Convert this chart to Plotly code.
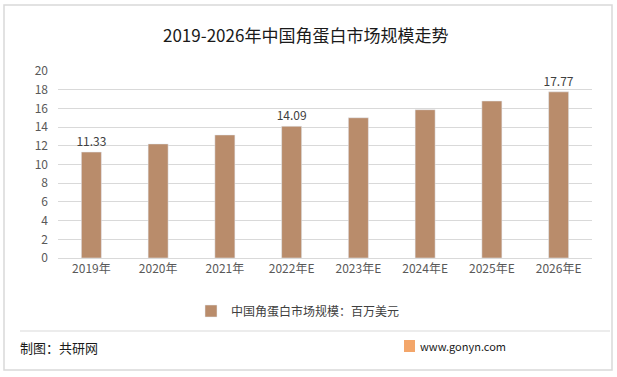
import plotly.graph_objects as go

categories = ["2019年", "2020年", "2021年", "2022年E", "2023年E", "2024年E", "2025年E", "2026年E"]
values = [11.33, 12.2, 13.16, 14.09, 15.0, 15.86, 16.79, 17.77]
labels = ["11.33", "", "", "14.09", "", "", "", "17.77"]
series_name = "中国角蛋白市场规模：百万美元"
title = "2019-2026年中国角蛋白市场规模走势"
y_ticks = [0, 2, 4, 6, 8, 10, 12, 14, 16, 18, 20]

W, H = 617, 377
L, R, T, B = 58, 25, 71, 119
pw, ph = W - L - R, H - T - B

def px(x):
    return (x - L) / pw

def py(y):
    return (H - B - y) / ph

font_family = "Noto Sans CJK SC, Microsoft YaHei, sans-serif"

fig = go.Figure()
fig.add_trace(go.Bar(
    x=categories, y=values, name=series_name,
    marker=dict(color="#B98C6B"),
    text=labels, textposition="outside", constraintext="none",
    textfont=dict(size=12, color="#404040"),
    cliponaxis=False,
))

fig.update_layout(
    width=W, height=H,
    margin=dict(l=L, r=R, t=T, b=B, autoexpand=False),
    paper_bgcolor="white", plot_bgcolor="white",
    font=dict(family=font_family, color="#595959", size=12),
    bargap=0.7,
    showlegend=True,
    legend=dict(orientation="h", x=0.5 - 27 / pw, xanchor="center", y=py(311), yanchor="middle",
                font=dict(size=12, color="#404040"), itemwidth=30),
    xaxis=dict(showgrid=False, showline=True, linecolor="#D9D9D9", ticks="",
               tickfont=dict(size=12, color="#595959")),
    yaxis=dict(range=[0, 20], tickvals=y_ticks, showgrid=True, gridcolor="#D9D9D9",
               zeroline=False, showline=False, ticks="", ticklen=0, ticklabelstandoff=9,
               tickfont=dict(size=12, color="#595959")),
    shapes=[
        dict(type="rect", xref="paper", yref="paper", x0=px(4), x1=px(612), y0=py(5), y1=py(370),
             line=dict(color="#D9D9D9", width=1.5), fillcolor="rgba(0,0,0,0)", layer="below"),
        dict(type="line", xref="paper", yref="paper", x0=px(20), x1=px(610), y0=py(331), y1=py(331),
             line=dict(color="#D9D9D9", width=1)),
        dict(type="rect", xref="paper", yref="paper", x0=px(404), x1=px(415), y0=py(340), y1=py(352),
             line=dict(width=0), fillcolor="#F3A66A"),
    ],
    annotations=[
        dict(text=title, xref="paper", yref="paper", x=px(305), y=py(35), xanchor="center", yanchor="middle",
             showarrow=False, font=dict(size=17, color="#1a1a1a")),
        dict(text="制图：共研网", xref="paper", yref="paper", x=px(18), y=py(347), xanchor="left", yanchor="middle",
             showarrow=False, font=dict(size=13, color="#1a1a1a")),
        dict(text="www.gonyn.com", xref="paper", yref="paper", x=px(418), y=py(346), xanchor="left", yanchor="middle",
             showarrow=False, font=dict(size=11, color="#1a1a1a")),
    ],
)

fig.write_html("out.html", config={"displayModeBar": False},
               post_script="document.body.style.margin='0';document.body.style.overflow='hidden';")
